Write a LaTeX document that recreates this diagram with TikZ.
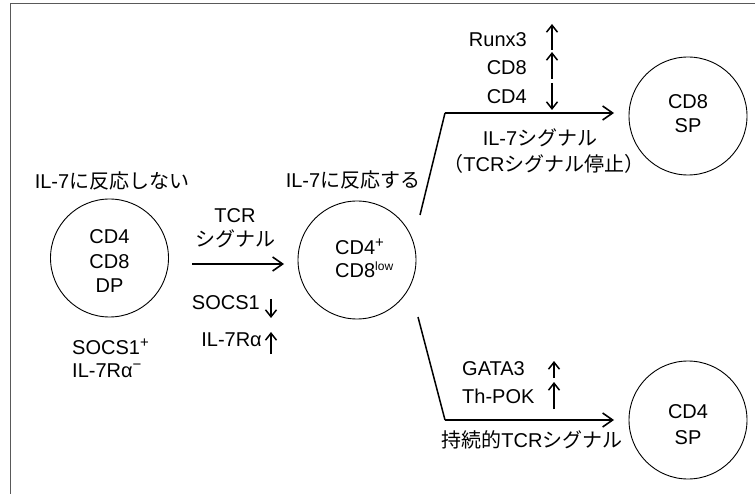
\documentclass[tikz,border=0pt]{standalone}
\usepackage{fontspec}
\setmainfont{Liberation Sans}
\newfontfamily\jp{Noto Sans CJK JP}
\usetikzlibrary{arrows.meta}
\newcommand{\supsign}[1]{\raisebox{7pt}{\fontsize{15}{16}\selectfont #1}}
\begin{document}
\begin{tikzpicture}[x=1pt,y=-1pt,
  every node/.style={font=\fontsize{20}{24}\selectfont, inner sep=0pt},
  cell/.style={draw, circle, line width=0.9pt, minimum size=118pt},
  lbl/.style={anchor=base},
  mainarrow/.style={line width=1.9pt, -{Straight Barb[length=10pt,width=14pt,line width=1.6pt]}},
  branch/.style={line width=1.5pt},
  updown/.style={line width=1.7pt, -{Straight Barb[length=7pt,width=11pt,line width=1.5pt]}}]
\useasboundingbox (0,0) rectangle (755,494);
% frame
\draw[black!65, line width=1pt] (10.5,494) -- (10.5,4) -- (755,4);

% cells
\node[cell] (dp) at (109.5,258) {};
\node[cell] (mid) at (357,260) {};
\node[cell] (sp8) at (688,116) {};
\node[cell] (sp4) at (688,420) {};

% DP texts
\node[lbl] (t1) at (112,189) {IL-7{\jp に反応しない}};
\node[lbl] (d1) at (109.5,244) {CD4};
\node[lbl] (d2) at (109.5,269) {CD8};
\node[lbl] (d3) at (109.5,293) {DP};
\node[lbl, anchor=base west] (s1) at (72,354) {SOCS1\supsign{+}};
\node[lbl, anchor=base west] (s2) at (72,377) {IL-7Rα\supsign{−}};

% TCR arrow
\node[lbl] (tcr) at (235,223) {TCR};
\node[lbl] (sig) at (235,247) {\jp シグナル};
\coordinate (a1) at (192,264);
\coordinate (a2) at (284,264);
\draw[mainarrow] (a1) -- (a2);
\node[lbl, anchor=base east] (soc) at (260,310) {SOCS1};
\node[lbl, anchor=base east] (il7r) at (262,346) {IL-7Rα};
\coordinate (u1) at (271,299);
\coordinate (u2) at (271,318);
\draw[updown] (u1) -- (u2);
\coordinate (u3) at (271,354);
\coordinate (u4) at (271,332);
\draw[updown] (u3) -- (u4);

% middle texts
\node[lbl] (t2) at (353,188) {IL-7{\jp に反応する}};
\node[lbl, anchor=base west] (m1) at (335,255) {CD4\supsign{+}};
\node[lbl, anchor=base west] (m2) at (335,278) {CD8\textsuperscript{\fontsize{12}{14}\selectfont low}};

% upper branch
\coordinate (b1) at (420,215);
\coordinate (b2) at (445,113);
\coordinate (b3) at (614,113);
\draw[branch] (b1) -- (b2);
\draw[mainarrow] (b2) -- (b3);
\node[lbl, anchor=base east] (r1) at (527,47) {Runx3};
\node[lbl, anchor=base east] (r2) at (527,75) {CD8};
\node[lbl, anchor=base east] (r3) at (527,104) {CD4};
\coordinate (v1) at (552,50);
\coordinate (v2) at (552,24);
\draw[updown] (v1) -- (v2);
\coordinate (v3) at (552,79);
\coordinate (v4) at (552,52);
\draw[updown] (v3) -- (v4);
\coordinate (v5) at (552,83);
\coordinate (v6) at (552,110);
\draw[updown] (v5) -- (v6);
\node[lbl] (il7s) at (540,146) {IL-7{\jp シグナル}};
\node[lbl] (stop) at (544,172) {{\jp （}TCR{\jp シグナル停止）}};

% lower branch
\coordinate (c1) at (418,317);
\coordinate (c2) at (445,420);
\coordinate (c3) at (614,420);
\draw[branch] (c1) -- (c2);
\draw[mainarrow] (c2) -- (c3);
\node[lbl, anchor=base west] (g1) at (462,375) {GATA3};
\node[lbl, anchor=base west] (g2) at (462,403) {Th-POK};
\coordinate (w1) at (554,378);
\coordinate (w2) at (554,361);
\draw[updown] (w1) -- (w2);
\coordinate (w3) at (554,409);
\coordinate (w4) at (554,382);
\draw[updown] (w3) -- (w4);
\node[lbl] (pers) at (532,447) {{\jp 持続的}TCR{\jp シグナル}};

% SP texts
\node[lbl] (p1) at (688,109) {CD8};
\node[lbl] (p2) at (688,133) {SP};
\node[lbl] (q1) at (688,418) {CD4};
\node[lbl] (q2) at (688,444) {SP};
\end{tikzpicture}
\end{document}
